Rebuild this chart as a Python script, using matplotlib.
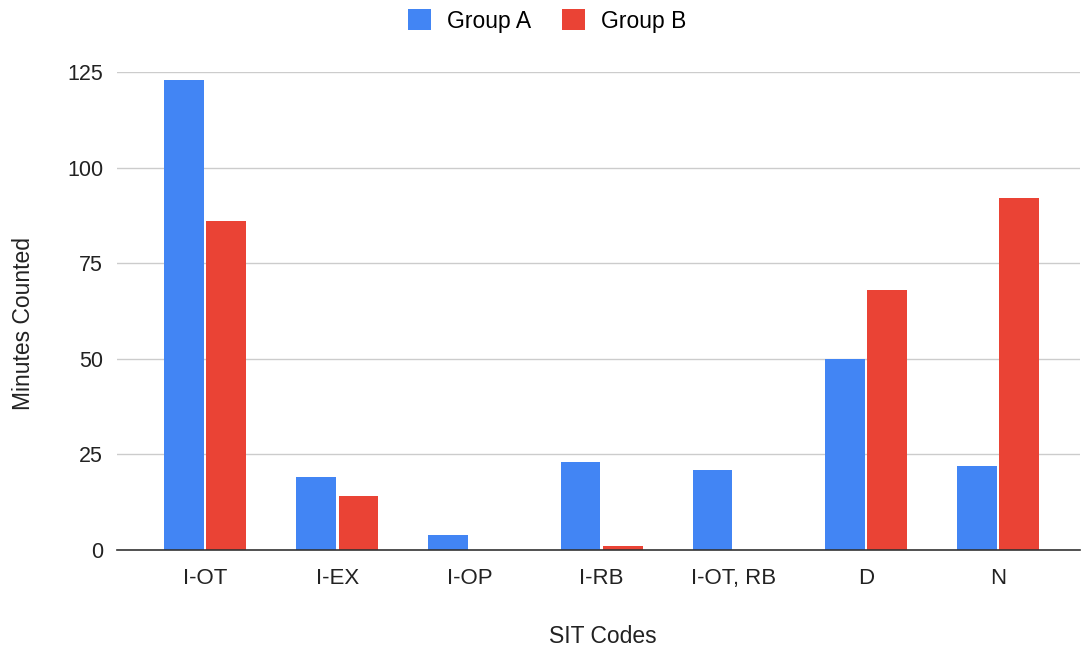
import matplotlib
matplotlib.use("Agg")
import matplotlib.pyplot as plt
import numpy as np

categories = ["I-OT", "I-EX", "I-OP", "I-RB", "I-OT, RB", "D", "N"]
group_a = [123, 19, 4, 23, 21, 50, 22]
group_b = [86, 14, 0, 1, 0, 68, 92]
y_ticks = [0, 25, 50, 75, 100, 125]

plt.rcParams['font.family'] = ['Liberation Sans', 'DejaVu Sans']

BLUE = "#4285F4"
RED = "#EA4335"
TEXT = "#222222"

fig = plt.figure(figsize=(10.81, 6.5), dpi=100)
ax = fig.add_axes([117 / 1081, 100 / 650, 963 / 1081, 478 / 650])

x = np.arange(len(categories))
w = 0.30
off = 0.16
ax.bar(x - off, group_a, width=w, color=BLUE, label="Group A", zorder=3)
ax.bar(x + off, group_b, width=w, color=RED, label="Group B", zorder=3)

ax.set_xlim(-0.666, len(categories) - 0.38)
ax.set_ylim(0, 125)
ax.set_yticks(y_ticks)
ax.set_xticks(x)
ax.set_xticklabels(categories)
ax.tick_params(axis="x", labelsize=16, colors=TEXT, length=0, pad=13)
ax.tick_params(axis="y", labelsize=15.5, colors=TEXT, length=0, pad=10)

ax.grid(axis="y", color="#CCCCCC", linewidth=1, zorder=0)
for s in ["top", "right", "left"]:
    ax.spines[s].set_visible(False)
ax.spines["bottom"].set_color("#333333")
ax.spines["bottom"].set_linewidth(1.2)
ax.spines["bottom"].set_zorder(4)

ax.set_xlabel("SIT Codes", fontsize=16.5, color=TEXT, va="baseline")
ax.xaxis.set_label_coords(0.5047, -0.1946)
ax.set_ylabel("Minutes Counted", fontsize=16.5, color=TEXT, va="center")
ax.yaxis.set_label_coords(-0.0976, 0.473)

fig.legend(loc="center", bbox_to_anchor=(0.506, 1 - 21 / 650), ncol=2, frameon=False,
           fontsize=16.5, handlelength=1.0, handleheight=1.0, columnspacing=1.35,
           handletextpad=0.7)

fig.savefig("out.png", dpi=100)
